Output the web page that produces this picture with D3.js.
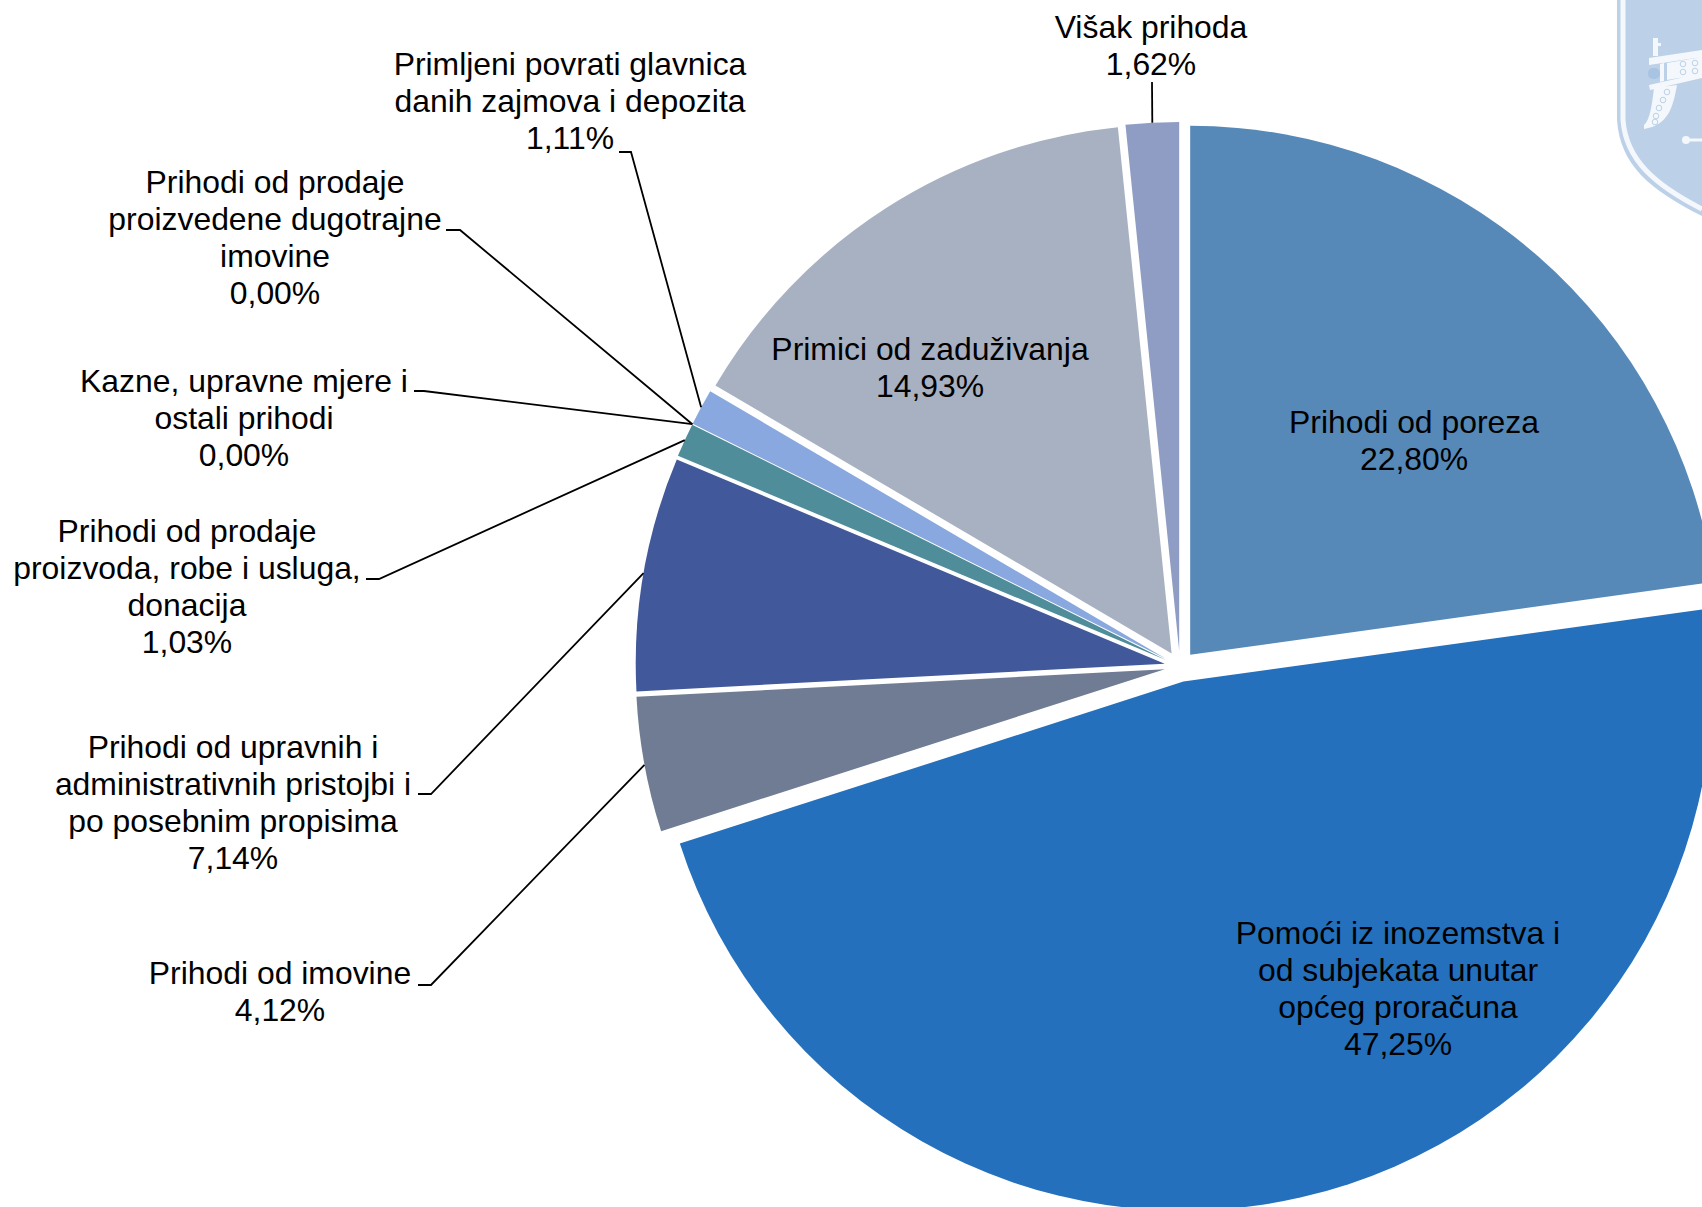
<!DOCTYPE html>
<html><head><meta charset="utf-8">
<script src="https://cdnjs.cloudflare.com/ajax/libs/d3/7.8.5/d3.min.js"></script>
<style>html,body{margin:0;padding:0;background:#fff;overflow:hidden}svg{display:block}text{font-family:"Liberation Sans",Arial,sans-serif;font-size:31.9px;fill:#000;text-anchor:middle}</style>
</head><body><svg id="c" width="1702" height="1207"></svg>
<script>
const categories = ["Prihodi od poreza","Pomoći iz inozemstva i od subjekata unutar općeg proračuna","Prihodi od imovine","Prihodi od upravnih i administrativnih pristojbi i po posebnim propisima","Prihodi od prodaje proizvoda, robe i usluga, donacija","Kazne, upravne mjere i ostali prihodi","Prihodi od prodaje proizvedene dugotrajne imovine","Primljeni povrati glavnica danih zajmova i depozita","Primici od zaduživanja","Višak prihoda"];
const values = [22.80,47.25,4.12,7.14,1.03,0.00,0.00,1.11,14.93,1.62];
const valueLabels = ["22,80%","47,25%","4,12%","7,14%","1,03%","0,00%","0,00%","1,11%","14,93%","1,62%"];
const labelLines = [["Prihodi od poreza"],["Pomoći iz inozemstva i","od subjekata unutar","općeg proračuna"],["Prihodi od imovine"],["Prihodi od upravnih i","administrativnih pristojbi i","po posebnim propisima"],["Prihodi od prodaje","proizvoda, robe i usluga,","donacija"],["Kazne, upravne mjere i","ostali prihodi"],["Prihodi od prodaje","proizvedene dugotrajne","imovine"],["Primljeni povrati glavnica","danih zajmova i depozita"],["Primici od zaduživanja"],["Višak prihoda"]];
const colors = ["#5689B8","#2470BC","#6F7C93","#41599A","#4E8D99","#88A8DF","#88A8DF","#88A8DF","#A7B1C2","#8F9DC4"];
// label layout: centre x, first line centre y
const labelX = [1414,1398,280,233,187,244,275,570,930,1151];
const labelY = [422,933,973,747,531,381,182,64,349,27];
// leader elbows: [text-side x, elbow x, elbow y]; null = no leader
const leaders = [null,null,[418,431,985],[418,431,794],[366,379,579],[414,424,391],[446,460,230],[619,631,152],null,[1152,1152,82]];

const cx=1180, cy=666.5, R=529, explode=15.5, lh=37;
const svg=d3.select("#c");

// watermark shield, cropped by the page's right edge
const w=svg.append("g");
const pale="#F4F8FC", shield="#BCD1E8";
w.append("path").attr("d","M1617,0 L1617,120 C1620,165 1650,190 1702,216 L1702,0 Z").attr("fill",shield);
w.append("path").attr("d","M1623,0 L1623,120 C1626,160 1655,185 1702,209").attr("fill","none").attr("stroke",pale).attr("stroke-width",5);
w.append("path").attr("d","M1649,58 L1702,50 L1702,57 L1649,65 Z M1649,85 L1702,73 L1702,78 L1650,90 Z M1667,63 L1702,57 L1702,74 L1667,80 Z M1660,64 L1664,63 L1664,81 L1660,82 Z M1653,38 L1658,38 L1658,43 L1661,43 L1661,46 L1658,46 L1658,56 L1653,56 Z M1654,88 L1677,85 C1673,108 1668,125 1644,129 L1644,125 C1650,120 1652,105 1654,88 Z").attr("fill",pale);
const holes=[[1683,64],[1695,63],[1683,72],[1695,71],[1667,92],[1663,100],[1659,108],[1656,116],[1655,122]];
w.append("g").selectAll("circle").data(holes).join("circle").attr("cx",d=>d[0]).attr("cy",d=>d[1]).attr("r",2.8).attr("fill",pale).attr("stroke",shield).attr("stroke-width",1);
w.append("rect").attr("x",1648).attr("y",68).attr("width",12).attr("height",11).attr("rx",5).attr("fill","#A9C3E2");
w.append("circle").attr("cx",1686).attr("cy",140).attr("r",4).attr("fill",pale);
w.append("rect").attr("x",1690).attr("y",138.5).attr("width",12).attr("height",3).attr("fill",pale);

const pie=d3.pie().sort(null).value(d=>d)(values);
const arc=d3.arc().innerRadius(0).outerRadius(R);
const offset=d=>{const a=(d.startAngle+d.endAngle)/2;return [explode*Math.sin(a),-explode*Math.cos(a)];};
const edge=d=>{const a=(d.startAngle+d.endAngle)/2,o=offset(d);return [cx+o[0]+R*Math.sin(a),cy+o[1]-R*Math.cos(a)];};

svg.append("g").selectAll("path").data(pie).join("path")
 .filter(d=>d.value>0)
 .attr("d",arc).attr("fill",(d,i)=>colors[d.index])
 .attr("transform",d=>{const o=offset(d);return `translate(${cx+o[0]},${cy+o[1]})`;});

const line=d3.line();
svg.append("g").selectAll("path").data(pie.filter(d=>leaders[d.index])).join("path")
 .attr("fill","none").attr("stroke","#000").attr("stroke-width",1.8)
 .attr("d",d=>{const l=leaders[d.index];return line([[l[0],l[2]],[l[1],l[2]],edge(d)]);});

const t=svg.append("g");
categories.forEach((c,i)=>{
  const lines=labelLines[i].concat(valueLabels[i]);
  lines.forEach((s,j)=>t.append("text").attr("x",labelX[i]).attr("y",labelY[i]+j*lh).attr("dy","0.35em").text(s));
});
</script></body></html>
